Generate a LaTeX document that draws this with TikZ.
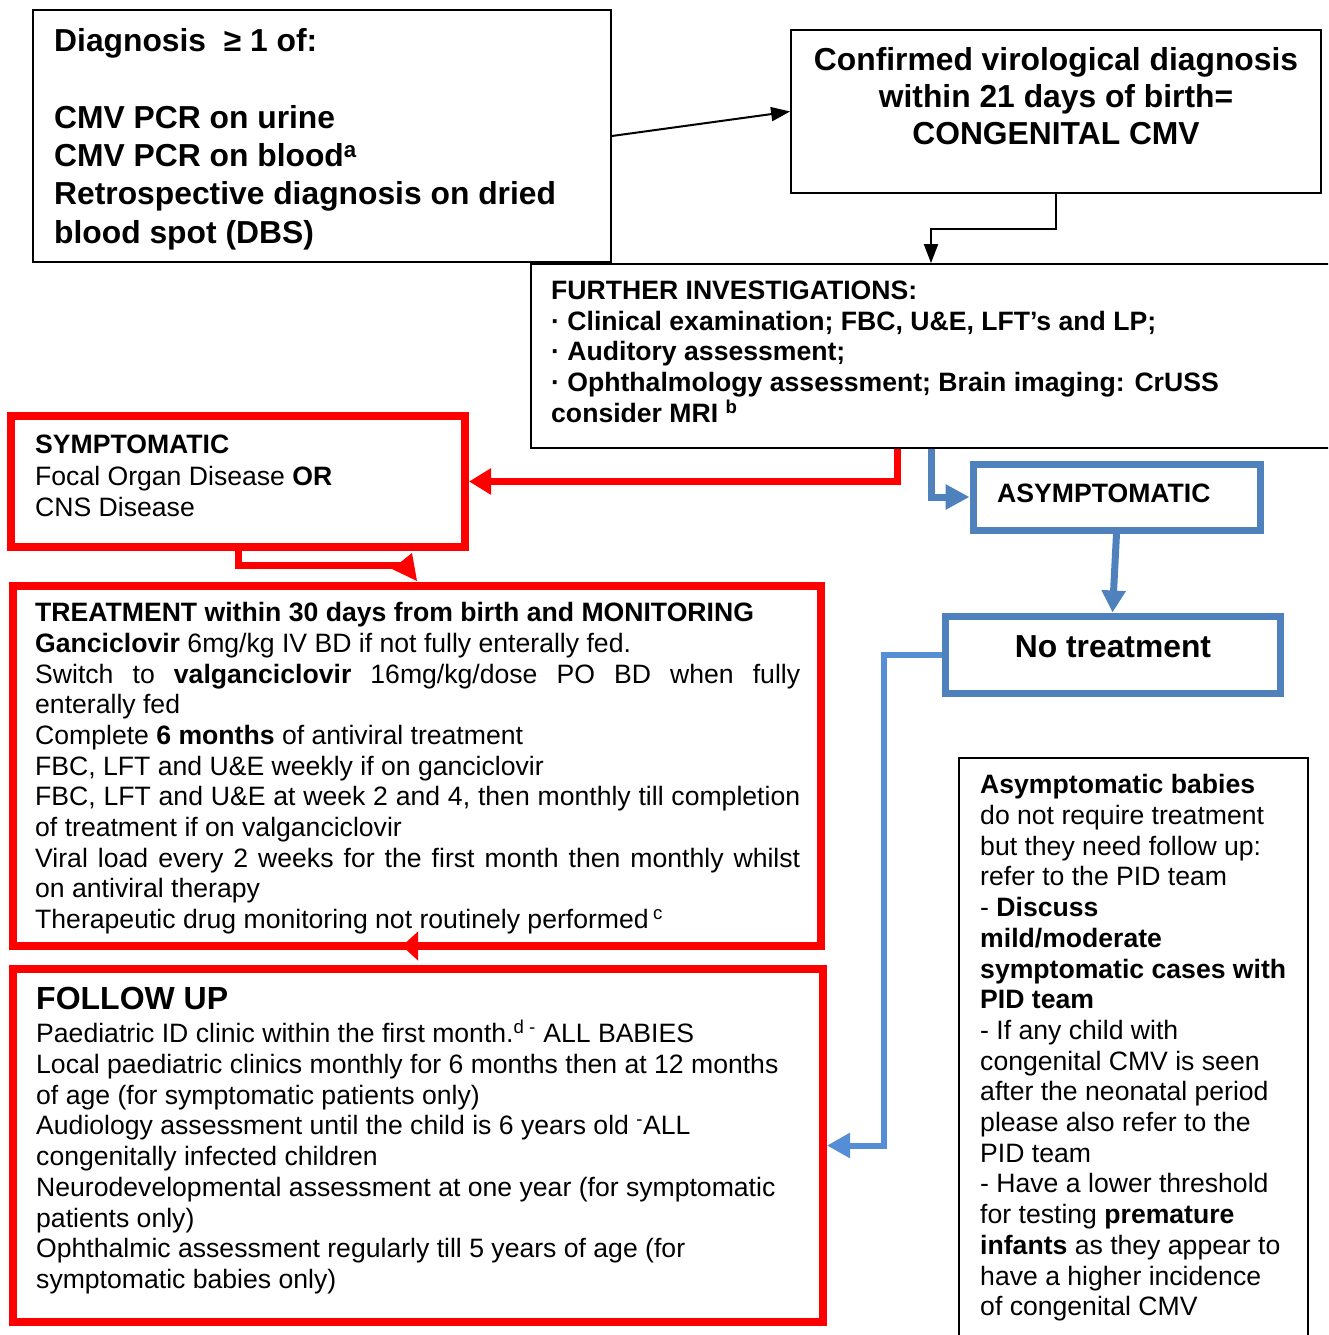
\documentclass[tikz,border=0pt]{standalone}
\usepackage{fontspec}
\setmainfont{Liberation Sans}
\usetikzlibrary{arrows.meta}
\definecolor{cred}{RGB}{255,0,0}
\definecolor{cblue}{RGB}{79,129,189}
\definecolor{clblue}{RGB}{85,142,213}
\newcommand{\fsz}[2]{\fontsize{#1pt}{#2pt}\selectfont}
\tikzset{
  thinbox/.style={draw=black, line width=1.8pt, inner sep=0pt, anchor=north west},
  redbox/.style={draw=cred, line width=8pt, inner sep=0pt, anchor=north west},
  bluebox/.style={draw=cblue, line width=7pt, inner sep=0pt, anchor=north west},
  txt/.style={inner sep=0pt, anchor=north west, align=left},
  blackarrow/.style={draw=black, line width=2pt, -{Triangle[length=19pt,width=14pt]}},
  redline/.style={draw=cred, line width=7pt, line join=miter},
  redarrow/.style={draw=cred, line width=7pt, line join=miter, -{Triangle[length=22pt,width=25pt]}},
  bluearrow/.style={draw=cblue, line width=7pt, line join=miter, -{Triangle[length=24pt,width=24pt]}},
  lbluearrow/.style={draw=clblue, line width=6pt, line join=miter, -{Triangle[length=23pt,width=24pt]}},
}
\begin{document}
\begin{tikzpicture}[x=1pt,y=-1pt]
\useasboundingbox (0,0) rectangle (1328,1335);
\clip (0,0) rectangle (1328,1335);
\fill[white] (0,0) rectangle (1328,1335);

% boxes (positions are outer corners)
\node[thinbox, minimum width=578pt, minimum height=252pt] (diag) at (32.1,9.1) {};
\node[thinbox, minimum width=530pt, minimum height=163pt] (conf) at (790.1,29.1) {};
\node[thinbox, minimum width=809pt, minimum height=184pt] (further) at (530.1,263.1) {};
\node[redbox, minimum width=454pt, minimum height=131pt] (symp) at (7,412) {};
\node[redbox, minimum width=808pt, minimum height=360pt] (treat) at (9,582) {};
\node[redbox, minimum width=810pt, minimum height=353pt] (follow) at (9,965) {};
\node[bluebox, minimum width=287pt, minimum height=66pt] (asym) at (969.5,460.5) {};
\node[bluebox, minimum width=335pt, minimum height=77pt] (notreat) at (941.5,612.5) {};
\node[thinbox, minimum width=349pt, minimum height=600pt] (note) at (958.1,757.1) {};

% texts
\node[txt, font=\bfseries\fsz{31.8}{38.3}] (diagtxt) at (54,24.7) {\strut Diagnosis \ ≥ 1 of:\\ \strut\\
CMV PCR on urine\\
CMV PCR on blood\textsuperscript{a}\\
Retrospective diagnosis on dried\\
blood spot (DBS)};

\node[inner sep=0pt, anchor=north, align=center, font=\bfseries\fsz{31.8}{37}] (conftxt) at (1056,44.6) {\strut Confirmed virological diagnosis\\
within 21 days of birth=\\
CONGENITAL CMV};

\node[txt, font=\bfseries\fsz{26.6}{30.6}] (furthertxt) at (551,278.1) {\strut FURTHER INVESTIGATIONS:\\
· Clinical examination; FBC, U\&E, LFT’s and LP;\\
· Auditory assessment;\\
· Ophthalmology assessment; Brain imaging: CrUSS\\
consider MRI \textsuperscript{b}};

\node[txt, font=\fsz{26.6}{31.5}] (symptxt) at (35,431.5) {\strut\textbf{SYMPTOMATIC}\\
Focal Organ Disease \textbf{OR}\\
CNS Disease};

\node[inner sep=0pt, anchor=base west, font=\bfseries\fsz{26.6}{30.6}] (asymtxt) at (997,502.5) {ASYMPTOMATIC};

\node[inner sep=0pt, anchor=base, font=\bfseries\fsz{31.8}{37}] (notreattxt) at (1113,657.5) {No treatment};

\node[inner sep=0pt, anchor=north west, text width=765pt, align=justify, font=\fsz{26.6}{30.7}] (treattxt) at (35,600) {\tolerance=10000\hyphenpenalty=10000\parindent=0pt
\strut\textbf{TREATMENT within 30 days from birth and MONITORING}\par
\textbf{Ganciclovir} 6mg/kg IV BD if not fully enterally fed.\par
Switch to \textbf{valganciclovir} 16mg/kg/dose PO BD when fully\linebreak enterally fed\par
Complete \textbf{6 months} of antiviral treatment\par
FBC, LFT and U\&E weekly if on ganciclovir\par
FBC, LFT and U\&E at week 2 and 4, then monthly till completion\linebreak of treatment if on valganciclovir\par
Viral load every 2 weeks for the first month then monthly whilst\linebreak on antiviral therapy\par
Therapeutic drug monitoring not routinely performed\,\textsuperscript{c}\par};

\node[inner sep=0pt, anchor=base west, font=\bfseries\fsz{32}{37}] (followtitle) at (36,1009.5) {FOLLOW UP};

\node[txt, font=\fsz{26.6}{30.7}] (followtxt) at (36,1020.1) {\strut Paediatric ID clinic within the first month.\textsuperscript{d -} ALL BABIES\\
Local paediatric clinics monthly for 6 months then at 12 months\\
of age (for symptomatic patients only)\\
Audiology assessment until the child is 6 years old \textsuperscript{-}ALL\\
congenitally infected children\\
Neurodevelopmental assessment at one year (for symptomatic\\
patients only)\\
Ophthalmic assessment regularly till 5 years of age (for\\
symptomatic babies only)};

\node[txt, font=\fsz{26.6}{30.7}] (notetxt) at (980,772.1) {\strut\textbf{Asymptomatic babies}\\
do not require treatment\\
but they need follow up:\\
refer to the PID team\\
- \textbf{Discuss}\\
\textbf{mild/moderate}\\
\textbf{symptomatic cases with}\\
\textbf{PID team}\\
- If any child with\\
congenital CMV is seen\\
after the neonatal period\\
please also refer to the\\
PID team\\
- Have a lower threshold\\
for testing \textbf{premature}\\
\textbf{infants} as they appear to\\
have a higher incidence\\
of congenital CMV};

% connectors
\draw[blackarrow] (diag.east) -- (conf.west);
\coordinate (j1) at (931,229);
\draw[blackarrow] (conf.south) |- (j1) -- (j1 |- further.north);

\coordinate (r1) at (897,481.5);
\draw[redarrow] (r1 |- further.south) -- (r1) -- (symp.east);

\coordinate (r2) at (238,565);
\coordinate (r3) at (405,565);
\draw[redline] (r2 |- symp.south) -- (r2) -- (r3);
\fill[cred] (417,581) -- (392,569) -- (412,553) -- cycle;

\coordinate (t1) at (432,946);
\coordinate (t2) at (402,946);
\draw[cred, line width=7pt, -{Triangle[length=16pt,width=28pt]}] (t1) -- (t2);

\coordinate (b1) at (931,497);
\draw[bluearrow] (b1 |- further.south) -- (b1) -- (asym.west);
\draw[bluearrow, -{Triangle[length=22pt,width=23pt]}] (asym.south) -- (notreat.north);

\coordinate (b2) at (884,1000);
\draw[lbluearrow] (notreat.west) -- (notreat.west -| b2) -- (b2 |- follow.east) -- (follow.east);
\end{tikzpicture}
\end{document}
